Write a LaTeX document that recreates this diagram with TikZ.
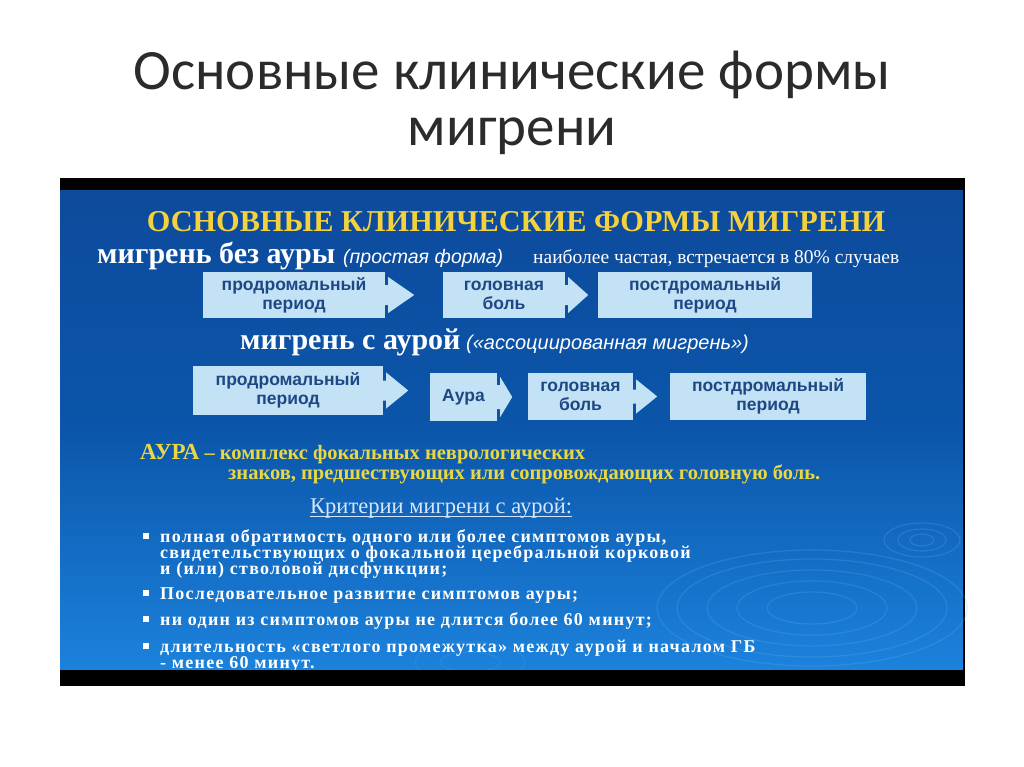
\documentclass[tikz,border=0pt]{standalone}
\usepackage{fontspec}
\setmainfont{Liberation Serif}
\newfontfamily\titlefont{Carlito}
\newfontfamily\boxfont{Liberation Sans}
\newfontfamily\bulfont[LetterSpace=7]{Liberation Serif}
\usetikzlibrary{calc}
\definecolor{titlegray}{HTML}{2B2B2B}
\definecolor{paneltop}{HTML}{0D4A9C}
\definecolor{panelmid}{HTML}{0B56AA}
\definecolor{panelbot}{HTML}{1C82DC}
\definecolor{boxblue}{HTML}{C3E2F6}
\definecolor{boxtext}{HTML}{1E4884}
\definecolor{headyellow}{HTML}{F3D23E}
\definecolor{aurayellow}{HTML}{E9D746}
\definecolor{critcolor}{HTML}{D6E6FA}
\definecolor{ripple}{HTML}{6FB4F0}
\tikzset{
  px/.style={x=1pt,y=-1pt},
  txt/.style={inner sep=0pt,anchor=base west,text=white},
  stage/.style={fill=boxblue,text=boxtext,inner sep=0pt,align=center,
    font=\boxfont\bfseries\fontsize{17.5}{19}\selectfont},
  headarrow/.style={fill=boxblue},
  rip/.style={draw=ripple,line width=1.2pt,opacity=0.22},
  bul/.style={txt,font=\bulfont\bfseries\fontsize{18}{19}\selectfont},
}
\newcommand{\stagearrow}[4]{%
  \fill[headarrow,shift={(#1.east)}] (0,-#4) -- (3,-#4) -- (3,-#3) -- (#2,0)
    -- (3,#3) -- (3,#4) -- (0,#4) -- cycle;}
\begin{document}
\begin{tikzpicture}[px]
\useasboundingbox (0,0) rectangle (1024,767);
\fill[white] (0,0) rectangle (1024,767);
% slide title
\node[inner sep=0pt,anchor=base,text=titlegray,font=\titlefont\fontsize{57}{62}\selectfont] (t1) at (512,90) {Основные клинические формы};
\node[inner sep=0pt,anchor=base,text=titlegray,font=\titlefont\fontsize{57}{62}\selectfont] (t2) at (512,146) {мигрени};
% panel
\fill[black] (60,178) rectangle (965,686);
\shade[top color=paneltop,bottom color=panelbot,middle color=panelmid] (60,191) rectangle (963,669);
% ripples
\foreach \r/\q in {45/16,75/27,105/38,135/49,155/58}{
  \draw[rip] (812,608) ellipse ({\r} and {\q});}
\foreach \r/\q in {12/6,24/11,38/17}{
  \draw[rip] (922,540) ellipse ({\r} and {\q});}
\foreach \r/\q in {30/10,55/20}{
  \draw[rip,opacity=0.14] (470,662) ellipse ({\r} and {\q});}
% heading
\node[inner sep=0pt,anchor=base,text=headyellow,font=\bfseries\fontsize{30.3}{36}\selectfont] (head) at (516,232) {ОСНОВНЫЕ КЛИНИЧЕСКИЕ ФОРМЫ МИГРЕНИ};
% row 1 caption
\node[txt,font=\bfseries\fontsize{30}{34}\selectfont] (m1) at (97,263) {мигрень без ауры};
\node[txt,font=\boxfont\itshape\fontsize{19.5}{22}\selectfont] (m1a) at (343,263) {(простая форма)};
\node[txt,font=\fontsize{19.5}{22}\selectfont] (m1b) at (533,263) {наиболее частая, встречается в 80\% случаев};
% row 1 boxes
\node[stage,minimum width=182pt,minimum height=46pt] (a1) at (294,295) {продромальный\\период};
\node[stage,minimum width=122pt,minimum height=46pt] (a2) at (504,295) {головная\\боль};
\node[stage,minimum width=214pt,minimum height=46pt] (a3) at (705,295) {постдромальный\\период};
\stagearrow{a1}{29}{18}{10}
\stagearrow{a2}{23}{18}{10}
% row 2 caption
\node[txt,font=\bfseries\fontsize{30}{34}\selectfont] (m2) at (240,349) {мигрень с аурой};
\node[txt,font=\boxfont\itshape\fontsize{20}{22}\selectfont] (m2a) at (466,349) {(«ассоциированная мигрень»)};
% row 2 boxes
\node[stage,minimum width=190pt,minimum height=49pt] (b1) at (288,390.5) {продромальный\\период};
\node[stage,minimum width=67pt,minimum height=48pt] (b2) at (463.5,397) {Аура};
\node[stage,minimum width=105pt,minimum height=47pt] (b3) at (580.5,396.5) {головная\\боль};
\node[stage,minimum width=196pt,minimum height=47pt] (b4) at (768,396.5) {постдромальный\\период};
\stagearrow{b1}{25}{18}{10}
\stagearrow{b2}{15}{20}{12}
\stagearrow{b3}{24}{17}{7}
% aura definition
\node[txt,text=aurayellow,font=\bfseries\fontsize{20.5}{24}\selectfont] (au1) at (140,459) {{\fontsize{23}{25}\selectfont АУРА} – комплекс фокальных неврологических};
\node[txt,text=aurayellow,font=\bfseries\fontsize{20.5}{24}\selectfont] (au2) at (228,479) {знаков, предшествующих или сопровождающих головную боль.};
% criteria
\node[txt,text=critcolor,font=\fontsize{22.5}{26}\selectfont] (crit) at (310,513) {Критерии мигрени с аурой:};
\draw[critcolor,line width=0.9pt] ($(crit.base west)+(0,3)$) -- ($(crit.base east)+(0,3)$);
\foreach \yy in {542,599,625,652}{\fill[white] (143,\yy-9) rectangle (149,\yy-3);}
\node[bul] (c1) at (160,542) {полная обратимость одного или более симптомов ауры,};
\node[bul] (c2) at (160,558) {свидетельствующих о фокальной церебральной корковой};
\node[bul] (c3) at (160,574) {и (или) стволовой дисфункции;};
\node[bul] (c4) at (160,599) {Последовательное развитие симптомов ауры;};
\node[bul] (c5) at (160,625) {ни один из симптомов ауры не длится более 60 минут;};
\node[bul] (c6) at (160,652) {длительность «светлого промежутка» между аурой и началом ГБ};
\node[bul] (c7) at (160,668) {- менее 60 минут.};
\fill[black] (60,670) rectangle (965,686);
\end{tikzpicture}
\end{document}
